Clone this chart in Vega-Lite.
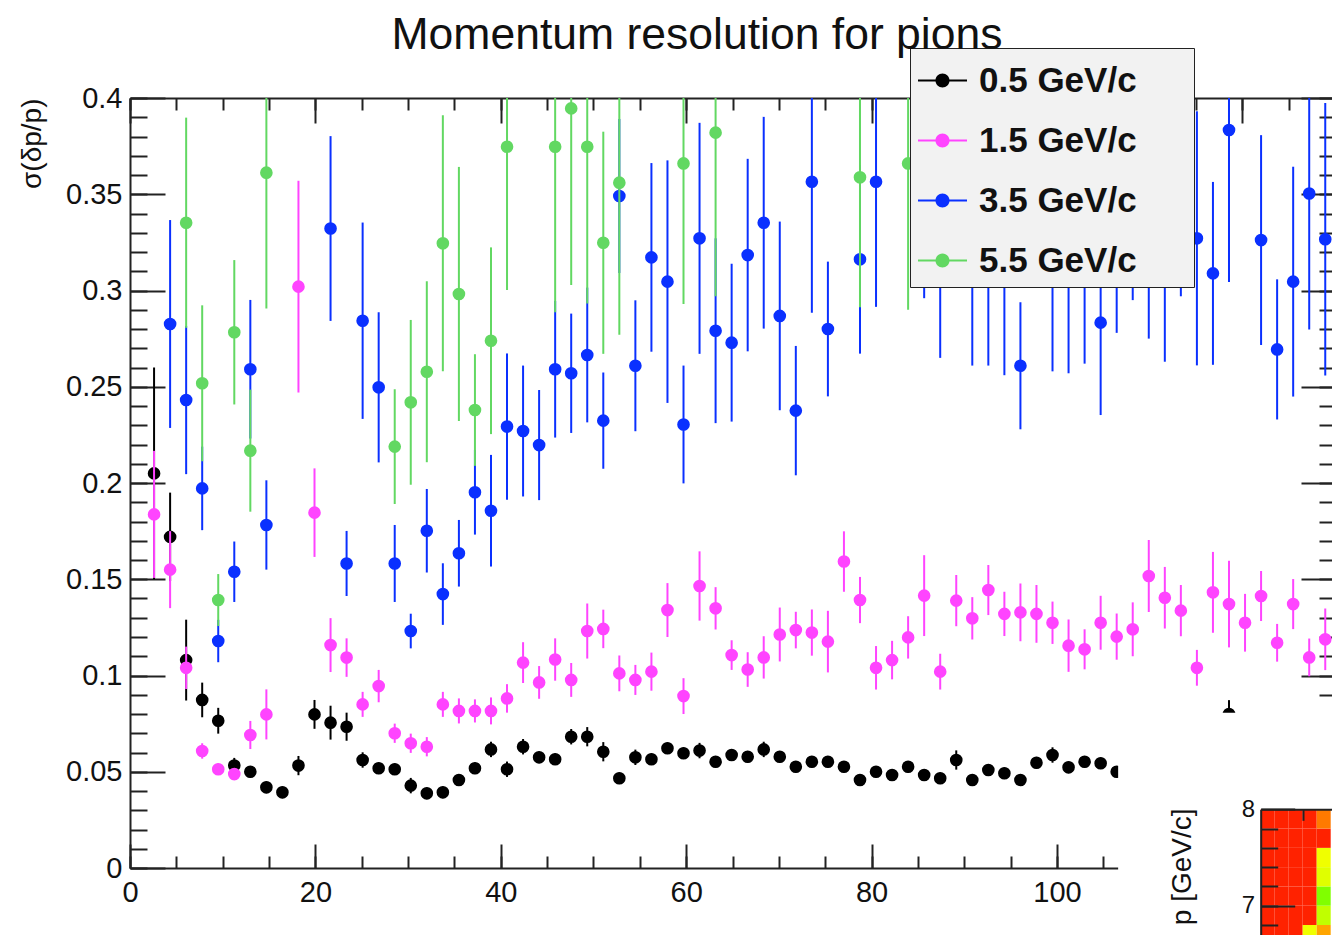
{
  "$schema": "https://vega.github.io/schema/vega-lite/v6.json",
  "width": 1202,
  "height": 770,
  "autosize": {"type": "none"},
  "padding": {"left": 130, "top": 98, "right": 0, "bottom": 67},
  "background": "white",
  "title": {"text": "Momentum resolution for pions", "font": "Liberation Sans", "fontSize": 44.5, "fontWeight": "normal", "color": "#111111", "anchor": "middle", "frame": "group", "dx": -34, "offset": -11},
  "config": {"view": {"stroke": null}, "axis": {"grid": false}, "point": {"size": 160}},
  "datasets": {
    "pts": [
      {"s":"0.5 GeV/c","x":2.596,"y":0.205,"e":0.055},
      {"s":"0.5 GeV/c","x":4.327,"y":0.172,"e":0.023},
      {"s":"0.5 GeV/c","x":6.058,"y":0.108,"e":0.021},
      {"s":"0.5 GeV/c","x":7.788,"y":0.0873,"e":0.009},
      {"s":"0.5 GeV/c","x":9.519,"y":0.0765,"e":0.0067},
      {"s":"0.5 GeV/c","x":11.25,"y":0.0532,"e":0.004},
      {"s":"0.5 GeV/c","x":12.981,"y":0.05,"e":0.003},
      {"s":"0.5 GeV/c","x":14.712,"y":0.0419,"e":0.003},
      {"s":"0.5 GeV/c","x":16.442,"y":0.0393,"e":0.003},
      {"s":"0.5 GeV/c","x":18.173,"y":0.0532,"e":0.005},
      {"s":"0.5 GeV/c","x":19.904,"y":0.0798,"e":0.0075},
      {"s":"0.5 GeV/c","x":21.635,"y":0.0755,"e":0.0088},
      {"s":"0.5 GeV/c","x":23.365,"y":0.0734,"e":0.0073},
      {"s":"0.5 GeV/c","x":25.096,"y":0.0561,"e":0.004},
      {"s":"0.5 GeV/c","x":26.827,"y":0.0518,"e":0.003},
      {"s":"0.5 GeV/c","x":28.558,"y":0.0513,"e":0.003},
      {"s":"0.5 GeV/c","x":30.288,"y":0.0428,"e":0.004},
      {"s":"0.5 GeV/c","x":32.019,"y":0.0388,"e":0.003},
      {"s":"0.5 GeV/c","x":33.75,"y":0.0393,"e":0.003},
      {"s":"0.5 GeV/c","x":35.481,"y":0.0457,"e":0.003},
      {"s":"0.5 GeV/c","x":37.212,"y":0.0518,"e":0.003},
      {"s":"0.5 GeV/c","x":38.942,"y":0.0616,"e":0.004},
      {"s":"0.5 GeV/c","x":40.673,"y":0.0513,"e":0.004},
      {"s":"0.5 GeV/c","x":42.404,"y":0.063,"e":0.004},
      {"s":"0.5 GeV/c","x":44.135,"y":0.0575,"e":0.003},
      {"s":"0.5 GeV/c","x":45.865,"y":0.0565,"e":0.003},
      {"s":"0.5 GeV/c","x":47.596,"y":0.0682,"e":0.004},
      {"s":"0.5 GeV/c","x":49.327,"y":0.0682,"e":0.005},
      {"s":"0.5 GeV/c","x":51.058,"y":0.0604,"e":0.005},
      {"s":"0.5 GeV/c","x":52.788,"y":0.0466,"e":0.003},
      {"s":"0.5 GeV/c","x":54.519,"y":0.0575,"e":0.004},
      {"s":"0.5 GeV/c","x":56.25,"y":0.0565,"e":0.003},
      {"s":"0.5 GeV/c","x":57.981,"y":0.0622,"e":0.003},
      {"s":"0.5 GeV/c","x":59.712,"y":0.0596,"e":0.003},
      {"s":"0.5 GeV/c","x":61.442,"y":0.061,"e":0.004},
      {"s":"0.5 GeV/c","x":63.173,"y":0.0552,"e":0.003},
      {"s":"0.5 GeV/c","x":64.904,"y":0.0587,"e":0.003},
      {"s":"0.5 GeV/c","x":66.635,"y":0.0578,"e":0.003},
      {"s":"0.5 GeV/c","x":68.365,"y":0.0616,"e":0.004},
      {"s":"0.5 GeV/c","x":70.096,"y":0.0578,"e":0.003},
      {"s":"0.5 GeV/c","x":71.827,"y":0.0526,"e":0.003},
      {"s":"0.5 GeV/c","x":73.558,"y":0.0552,"e":0.003},
      {"s":"0.5 GeV/c","x":75.288,"y":0.0552,"e":0.003},
      {"s":"0.5 GeV/c","x":77.019,"y":0.0526,"e":0.003},
      {"s":"0.5 GeV/c","x":78.75,"y":0.0457,"e":0.003},
      {"s":"0.5 GeV/c","x":80.481,"y":0.05,"e":0.003},
      {"s":"0.5 GeV/c","x":82.212,"y":0.0483,"e":0.003},
      {"s":"0.5 GeV/c","x":83.942,"y":0.0526,"e":0.003},
      {"s":"0.5 GeV/c","x":85.673,"y":0.0483,"e":0.003},
      {"s":"0.5 GeV/c","x":87.404,"y":0.0466,"e":0.003},
      {"s":"0.5 GeV/c","x":89.135,"y":0.0561,"e":0.005},
      {"s":"0.5 GeV/c","x":90.865,"y":0.0457,"e":0.003},
      {"s":"0.5 GeV/c","x":92.596,"y":0.0509,"e":0.003},
      {"s":"0.5 GeV/c","x":94.327,"y":0.0492,"e":0.003},
      {"s":"0.5 GeV/c","x":96.058,"y":0.0457,"e":0.003},
      {"s":"0.5 GeV/c","x":97.788,"y":0.0547,"e":0.003},
      {"s":"0.5 GeV/c","x":99.519,"y":0.0587,"e":0.004},
      {"s":"0.5 GeV/c","x":101.25,"y":0.0523,"e":0.003},
      {"s":"0.5 GeV/c","x":102.981,"y":0.0552,"e":0.003},
      {"s":"0.5 GeV/c","x":104.712,"y":0.0544,"e":0.003},
      {"s":"0.5 GeV/c","x":106.442,"y":0.05,"e":0.003},
      {"s":"0.5 GeV/c","x":118.558,"y":0.08,"e":0.0072},

      {"s":"1.5 GeV/c","x":2.596,"y":0.1837,"e":0.033},
      {"s":"1.5 GeV/c","x":4.327,"y":0.155,"e":0.02},
      {"s":"1.5 GeV/c","x":6.058,"y":0.104,"e":0.011},
      {"s":"1.5 GeV/c","x":7.788,"y":0.0608,"e":0.004},
      {"s":"1.5 GeV/c","x":9.519,"y":0.0513,"e":0.003},
      {"s":"1.5 GeV/c","x":11.25,"y":0.0488,"e":0.003},
      {"s":"1.5 GeV/c","x":12.981,"y":0.0691,"e":0.0073},
      {"s":"1.5 GeV/c","x":14.712,"y":0.0798,"e":0.013},
      {"s":"1.5 GeV/c","x":18.173,"y":0.302,"e":0.055},
      {"s":"1.5 GeV/c","x":19.904,"y":0.1846,"e":0.023},
      {"s":"1.5 GeV/c","x":21.635,"y":0.1158,"e":0.014},
      {"s":"1.5 GeV/c","x":23.365,"y":0.1093,"e":0.01},
      {"s":"1.5 GeV/c","x":25.096,"y":0.085,"e":0.0065},
      {"s":"1.5 GeV/c","x":26.827,"y":0.0945,"e":0.0084},
      {"s":"1.5 GeV/c","x":28.558,"y":0.07,"e":0.005},
      {"s":"1.5 GeV/c","x":30.288,"y":0.0648,"e":0.005},
      {"s":"1.5 GeV/c","x":32.019,"y":0.063,"e":0.005},
      {"s":"1.5 GeV/c","x":33.75,"y":0.085,"e":0.0065},
      {"s":"1.5 GeV/c","x":35.481,"y":0.0816,"e":0.0065},
      {"s":"1.5 GeV/c","x":37.212,"y":0.0816,"e":0.006},
      {"s":"1.5 GeV/c","x":38.942,"y":0.0816,"e":0.007},
      {"s":"1.5 GeV/c","x":40.673,"y":0.0881,"e":0.0074},
      {"s":"1.5 GeV/c","x":42.404,"y":0.1067,"e":0.0106},
      {"s":"1.5 GeV/c","x":44.135,"y":0.0964,"e":0.0085},
      {"s":"1.5 GeV/c","x":45.865,"y":0.1083,"e":0.011},
      {"s":"1.5 GeV/c","x":47.596,"y":0.0977,"e":0.0088},
      {"s":"1.5 GeV/c","x":49.327,"y":0.1231,"e":0.0143},
      {"s":"1.5 GeV/c","x":51.058,"y":0.1242,"e":0.01},
      {"s":"1.5 GeV/c","x":52.788,"y":0.1011,"e":0.0093},
      {"s":"1.5 GeV/c","x":54.519,"y":0.0977,"e":0.0078},
      {"s":"1.5 GeV/c","x":56.25,"y":0.102,"e":0.0099},
      {"s":"1.5 GeV/c","x":57.981,"y":0.134,"e":0.014},
      {"s":"1.5 GeV/c","x":59.712,"y":0.0893,"e":0.0093},
      {"s":"1.5 GeV/c","x":61.442,"y":0.1465,"e":0.018},
      {"s":"1.5 GeV/c","x":63.173,"y":0.1349,"e":0.011},
      {"s":"1.5 GeV/c","x":64.904,"y":0.1106,"e":0.0077},
      {"s":"1.5 GeV/c","x":66.635,"y":0.1031,"e":0.009},
      {"s":"1.5 GeV/c","x":68.365,"y":0.1094,"e":0.011},
      {"s":"1.5 GeV/c","x":70.096,"y":0.1213,"e":0.014},
      {"s":"1.5 GeV/c","x":71.827,"y":0.1236,"e":0.0095},
      {"s":"1.5 GeV/c","x":73.558,"y":0.1223,"e":0.012},
      {"s":"1.5 GeV/c","x":75.288,"y":0.1176,"e":0.016},
      {"s":"1.5 GeV/c","x":77.019,"y":0.1592,"e":0.0157},
      {"s":"1.5 GeV/c","x":78.75,"y":0.1392,"e":0.012},
      {"s":"1.5 GeV/c","x":80.481,"y":0.104,"e":0.0113},
      {"s":"1.5 GeV/c","x":82.212,"y":0.108,"e":0.01},
      {"s":"1.5 GeV/c","x":83.942,"y":0.1198,"e":0.011},
      {"s":"1.5 GeV/c","x":85.673,"y":0.1415,"e":0.021},
      {"s":"1.5 GeV/c","x":87.404,"y":0.102,"e":0.0093},
      {"s":"1.5 GeV/c","x":89.135,"y":0.1389,"e":0.0133},
      {"s":"1.5 GeV/c","x":90.865,"y":0.1297,"e":0.011},
      {"s":"1.5 GeV/c","x":92.596,"y":0.1444,"e":0.013},
      {"s":"1.5 GeV/c","x":94.327,"y":0.132,"e":0.0115},
      {"s":"1.5 GeV/c","x":96.058,"y":0.1328,"e":0.015},
      {"s":"1.5 GeV/c","x":97.788,"y":0.132,"e":0.015},
      {"s":"1.5 GeV/c","x":99.519,"y":0.1274,"e":0.011},
      {"s":"1.5 GeV/c","x":101.25,"y":0.1155,"e":0.0136},
      {"s":"1.5 GeV/c","x":102.981,"y":0.1136,"e":0.0104},
      {"s":"1.5 GeV/c","x":104.712,"y":0.1274,"e":0.014},
      {"s":"1.5 GeV/c","x":106.442,"y":0.1202,"e":0.012},
      {"s":"1.5 GeV/c","x":108.173,"y":0.124,"e":0.014},
      {"s":"1.5 GeV/c","x":109.904,"y":0.1517,"e":0.0187},
      {"s":"1.5 GeV/c","x":111.635,"y":0.1404,"e":0.016},
      {"s":"1.5 GeV/c","x":113.365,"y":0.1337,"e":0.0133},
      {"s":"1.5 GeV/c","x":115.096,"y":0.104,"e":0.0093},
      {"s":"1.5 GeV/c","x":116.827,"y":0.1432,"e":0.021},
      {"s":"1.5 GeV/c","x":118.558,"y":0.1371,"e":0.0225},
      {"s":"1.5 GeV/c","x":120.288,"y":0.1274,"e":0.015},
      {"s":"1.5 GeV/c","x":122.019,"y":0.1413,"e":0.013},
      {"s":"1.5 GeV/c","x":123.75,"y":0.117,"e":0.0098},
      {"s":"1.5 GeV/c","x":125.481,"y":0.1371,"e":0.013},
      {"s":"1.5 GeV/c","x":127.212,"y":0.1094,"e":0.0098},
      {"s":"1.5 GeV/c","x":128.942,"y":0.1188,"e":0.016},

      {"s":"3.5 GeV/c","x":4.327,"y":0.2826,"e":0.054},
      {"s":"3.5 GeV/c","x":6.058,"y":0.2431,"e":0.0385},
      {"s":"3.5 GeV/c","x":7.788,"y":0.1972,"e":0.0217},
      {"s":"3.5 GeV/c","x":9.519,"y":0.1179,"e":0.011},
      {"s":"3.5 GeV/c","x":11.25,"y":0.1539,"e":0.0157},
      {"s":"3.5 GeV/c","x":12.981,"y":0.2591,"e":0.036},
      {"s":"3.5 GeV/c","x":14.712,"y":0.1782,"e":0.0232},
      {"s":"3.5 GeV/c","x":21.635,"y":0.3322,"e":0.048},
      {"s":"3.5 GeV/c","x":23.365,"y":0.1582,"e":0.0169},
      {"s":"3.5 GeV/c","x":25.096,"y":0.2843,"e":0.051},
      {"s":"3.5 GeV/c","x":26.827,"y":0.2497,"e":0.039},
      {"s":"3.5 GeV/c","x":28.558,"y":0.1582,"e":0.02},
      {"s":"3.5 GeV/c","x":30.288,"y":0.1231,"e":0.009},
      {"s":"3.5 GeV/c","x":32.019,"y":0.1752,"e":0.0217},
      {"s":"3.5 GeV/c","x":33.75,"y":0.1423,"e":0.016},
      {"s":"3.5 GeV/c","x":35.481,"y":0.1635,"e":0.0173},
      {"s":"3.5 GeV/c","x":37.212,"y":0.1952,"e":0.022},
      {"s":"3.5 GeV/c","x":38.942,"y":0.1856,"e":0.029},
      {"s":"3.5 GeV/c","x":40.673,"y":0.2293,"e":0.038},
      {"s":"3.5 GeV/c","x":42.404,"y":0.227,"e":0.034},
      {"s":"3.5 GeV/c","x":44.135,"y":0.2197,"e":0.0286},
      {"s":"3.5 GeV/c","x":45.865,"y":0.2591,"e":0.0355},
      {"s":"3.5 GeV/c","x":47.596,"y":0.257,"e":0.031},
      {"s":"3.5 GeV/c","x":49.327,"y":0.2665,"e":0.035},
      {"s":"3.5 GeV/c","x":51.058,"y":0.2324,"e":0.025},
      {"s":"3.5 GeV/c","x":52.788,"y":0.3491,"e":0.04},
      {"s":"3.5 GeV/c","x":54.519,"y":0.2609,"e":0.034},
      {"s":"3.5 GeV/c","x":56.25,"y":0.3172,"e":0.049},
      {"s":"3.5 GeV/c","x":57.981,"y":0.3046,"e":0.063},
      {"s":"3.5 GeV/c","x":59.712,"y":0.2304,"e":0.0306},
      {"s":"3.5 GeV/c","x":61.442,"y":0.3271,"e":0.06},
      {"s":"3.5 GeV/c","x":63.173,"y":0.2791,"e":0.048},
      {"s":"3.5 GeV/c","x":64.904,"y":0.2729,"e":0.041},
      {"s":"3.5 GeV/c","x":66.635,"y":0.3184,"e":0.05},
      {"s":"3.5 GeV/c","x":68.365,"y":0.3352,"e":0.055},
      {"s":"3.5 GeV/c","x":70.096,"y":0.2868,"e":0.049},
      {"s":"3.5 GeV/c","x":71.827,"y":0.2376,"e":0.0336},
      {"s":"3.5 GeV/c","x":73.558,"y":0.3565,"e":0.068},
      {"s":"3.5 GeV/c","x":75.288,"y":0.28,"e":0.035},
      {"s":"3.5 GeV/c","x":78.75,"y":0.3162,"e":0.049},
      {"s":"3.5 GeV/c","x":80.481,"y":0.3565,"e":0.065},
      {"s":"3.5 GeV/c","x":85.673,"y":0.336,"e":0.04},
      {"s":"3.5 GeV/c","x":87.404,"y":0.315,"e":0.05},
      {"s":"3.5 GeV/c","x":90.865,"y":0.315,"e":0.054},
      {"s":"3.5 GeV/c","x":92.596,"y":0.32,"e":0.059},
      {"s":"3.5 GeV/c","x":94.327,"y":0.31,"e":0.054},
      {"s":"3.5 GeV/c","x":96.058,"y":0.2609,"e":0.033},
      {"s":"3.5 GeV/c","x":99.519,"y":0.31,"e":0.052},
      {"s":"3.5 GeV/c","x":101.25,"y":0.31,"e":0.053},
      {"s":"3.5 GeV/c","x":102.981,"y":0.315,"e":0.053},
      {"s":"3.5 GeV/c","x":104.712,"y":0.2833,"e":0.048},
      {"s":"3.5 GeV/c","x":106.442,"y":0.33,"e":0.052},
      {"s":"3.5 GeV/c","x":108.173,"y":0.345,"e":0.05},
      {"s":"3.5 GeV/c","x":109.904,"y":0.33,"e":0.055},
      {"s":"3.5 GeV/c","x":111.635,"y":0.32,"e":0.057},
      {"s":"3.5 GeV/c","x":113.365,"y":0.34,"e":0.043},
      {"s":"3.5 GeV/c","x":115.096,"y":0.3271,"e":0.066},
      {"s":"3.5 GeV/c","x":116.827,"y":0.3089,"e":0.0475},
      {"s":"3.5 GeV/c","x":118.558,"y":0.3834,"e":0.079},
      {"s":"3.5 GeV/c","x":122.019,"y":0.3262,"e":0.0545},
      {"s":"3.5 GeV/c","x":123.75,"y":0.2694,"e":0.0364},
      {"s":"3.5 GeV/c","x":125.481,"y":0.3046,"e":0.0597},
      {"s":"3.5 GeV/c","x":127.212,"y":0.3504,"e":0.0706},
      {"s":"3.5 GeV/c","x":128.942,"y":0.3266,"e":0.0708},

      {"s":"5.5 GeV/c","x":6.058,"y":0.3352,"e":0.0546},
      {"s":"5.5 GeV/c","x":7.788,"y":0.2518,"e":0.0405},
      {"s":"5.5 GeV/c","x":9.519,"y":0.1392,"e":0.0135},
      {"s":"5.5 GeV/c","x":11.25,"y":0.2783,"e":0.0375},
      {"s":"5.5 GeV/c","x":12.981,"y":0.2168,"e":0.0317},
      {"s":"5.5 GeV/c","x":14.712,"y":0.3612,"e":0.0705},
      {"s":"5.5 GeV/c","x":28.558,"y":0.2189,"e":0.0298},
      {"s":"5.5 GeV/c","x":30.288,"y":0.2419,"e":0.0428},
      {"s":"5.5 GeV/c","x":32.019,"y":0.2578,"e":0.047},
      {"s":"5.5 GeV/c","x":33.75,"y":0.3245,"e":0.0665},
      {"s":"5.5 GeV/c","x":35.481,"y":0.2982,"e":0.066},
      {"s":"5.5 GeV/c","x":37.212,"y":0.2379,"e":0.029},
      {"s":"5.5 GeV/c","x":38.942,"y":0.2739,"e":0.0485},
      {"s":"5.5 GeV/c","x":40.673,"y":0.3747,"e":0.0745},
      {"s":"5.5 GeV/c","x":45.865,"y":0.3747,"e":0.086},
      {"s":"5.5 GeV/c","x":47.596,"y":0.3946,"e":0.0917},
      {"s":"5.5 GeV/c","x":49.327,"y":0.3747,"e":0.0814},
      {"s":"5.5 GeV/c","x":51.058,"y":0.3248,"e":0.0577},
      {"s":"5.5 GeV/c","x":52.788,"y":0.356,"e":0.079},
      {"s":"5.5 GeV/c","x":59.712,"y":0.366,"e":0.073},
      {"s":"5.5 GeV/c","x":63.173,"y":0.382,"e":0.085},
      {"s":"5.5 GeV/c","x":78.75,"y":0.3588,"e":0.0675},
      {"s":"5.5 GeV/c","x":83.942,"y":0.366,"e":0.076}
    ],
    "cells": [
      {"b0":0,"b1":1,"p0":6.6,"p1":6.8,"z":100},{"b0":0,"b1":1,"p0":6.8,"p1":7.0,"z":100},{"b0":0,"b1":1,"p0":7.0,"p1":7.2,"z":100},{"b0":0,"b1":1,"p0":7.2,"p1":7.4,"z":100},{"b0":0,"b1":1,"p0":7.4,"p1":7.6,"z":100},{"b0":0,"b1":1,"p0":7.6,"p1":7.8,"z":100},{"b0":0,"b1":1,"p0":7.8,"p1":8.0,"z":100},
      {"b0":1,"b1":2,"p0":6.6,"p1":6.8,"z":100},{"b0":1,"b1":2,"p0":6.8,"p1":7.0,"z":100},{"b0":1,"b1":2,"p0":7.0,"p1":7.2,"z":100},{"b0":1,"b1":2,"p0":7.2,"p1":7.4,"z":100},{"b0":1,"b1":2,"p0":7.4,"p1":7.6,"z":100},{"b0":1,"b1":2,"p0":7.6,"p1":7.8,"z":100},{"b0":1,"b1":2,"p0":7.8,"p1":8.0,"z":100},
      {"b0":2,"b1":3,"p0":6.6,"p1":6.8,"z":100},{"b0":2,"b1":3,"p0":6.8,"p1":7.0,"z":100},{"b0":2,"b1":3,"p0":7.0,"p1":7.2,"z":100},{"b0":2,"b1":3,"p0":7.2,"p1":7.4,"z":100},{"b0":2,"b1":3,"p0":7.4,"p1":7.6,"z":100},{"b0":2,"b1":3,"p0":7.6,"p1":7.8,"z":100},{"b0":2,"b1":3,"p0":7.8,"p1":8.0,"z":100},
      {"b0":3,"b1":4,"p0":6.6,"p1":6.8,"z":70},{"b0":3,"b1":4,"p0":6.8,"p1":7.0,"z":100},{"b0":3,"b1":4,"p0":7.0,"p1":7.2,"z":100},{"b0":3,"b1":4,"p0":7.2,"p1":7.4,"z":100},{"b0":3,"b1":4,"p0":7.4,"p1":7.6,"z":100},{"b0":3,"b1":4,"p0":7.6,"p1":7.8,"z":100},{"b0":3,"b1":4,"p0":7.8,"p1":8.0,"z":100},
      {"b0":4,"b1":5,"p0":6.6,"p1":6.8,"z":80},{"b0":4,"b1":5,"p0":6.8,"p1":7.0,"z":62},{"b0":4,"b1":5,"p0":7.0,"p1":7.2,"z":55},{"b0":4,"b1":5,"p0":7.2,"p1":7.4,"z":66},{"b0":4,"b1":5,"p0":7.4,"p1":7.6,"z":70},{"b0":4,"b1":5,"p0":7.6,"p1":7.8,"z":100},{"b0":4,"b1":5,"p0":7.8,"p1":8.0,"z":85}
    ]
  },
  "layer": [
    {
      "data": {"name": "pts"},
      "transform": [{"filter": "datum.s === '0.5 GeV/c'"}],
      "mark": {"type": "errorbar", "color": "#000000", "thickness": 2, "clip": true},
      "encoding": {
        "x": {"field": "x", "type": "quantitative", "scale": {"domain": [0, 129.67], "nice": false, "zero": false}, "axis": null},
        "y": {"field": "y", "type": "quantitative", "scale": {"domain": [0, 0.4], "nice": false, "zero": false}, "axis": null},
        "yError": {"field": "e"}
      }
    },
    {
      "data": {"name": "pts"},
      "transform": [{"filter": "datum.s === '0.5 GeV/c'"}],
      "mark": {"type": "point", "filled": true, "opacity": 1},
      "encoding": {
        "x": {"field": "x", "type": "quantitative", "scale": {"domain": [0, 129.67], "nice": false, "zero": false},
          "axis": {"orient": "bottom", "values": [0,5,10,15,20,25,30,35,40,45,50,55,60,65,70,75,80,85,90,95,100,105,110,115,120,125], "tickSize": -12, "tickWidth": 2, "tickColor": "#222222", "labels": false, "domain": true, "domainWidth": 2, "domainColor": "#222222", "title": null}},
        "y": {"field": "y", "type": "quantitative", "scale": {"domain": [0, 0.4], "nice": false, "zero": false},
          "axis": {"orient": "left", "values": [0,0.01,0.02,0.03,0.04,0.05,0.06,0.07,0.08,0.09,0.1,0.11,0.12,0.13,0.14,0.15,0.16,0.17,0.18,0.19,0.2,0.21,0.22,0.23,0.24,0.25,0.26,0.27,0.28,0.29,0.3,0.31,0.32,0.33,0.34,0.35,0.36,0.37,0.38,0.39,0.4], "tickSize": -17, "tickWidth": 2, "tickColor": "#222222", "labels": false, "domain": true, "domainWidth": 2, "domainColor": "#222222", "title": null}},
        "color": {"field": "s", "type": "nominal", "scale": {"domain": ["0.5 GeV/c","1.5 GeV/c","3.5 GeV/c","5.5 GeV/c"], "range": ["#000000","#ff44ff","#0a30ff","#62d862"]},
          "legend": {"title": ".", "titleOrient": "right", "titlePadding": 48, "titleFontSize": 2, "titleColor": "#f2f2f2",
            "orient": "none", "legendX": 780, "legendY": -50,
            "symbolType": "M-1,-0.041L1,-0.041L1,0.041L-1,0.041Z M-0.286,0A0.286,0.286,0,1,1,0.286,0A0.286,0.286,0,1,1,-0.286,0Z",
            "symbolSize": 2401, "symbolOpacity": 1, "symbolStrokeWidth": 0,
            "labelFont": "Liberation Sans", "labelFontSize": 35, "labelFontWeight": "bold", "labelColor": "#111111", "labelOffset": 12, "labelLimit": 300,
            "padding": 8, "rowPadding": 17, "fillColor": "#f2f2f2", "strokeColor": "#222222"}}
      }
    },
    {
      "data": {"name": "pts"},
      "transform": [{"filter": "datum.s === '1.5 GeV/c'"}],
      "mark": {"type": "errorbar", "color": "#ff44ff", "thickness": 2, "clip": true},
      "encoding": {
        "x": {"field": "x", "type": "quantitative", "scale": {"domain": [0, 129.67], "nice": false, "zero": false}, "axis": null},
        "y": {"field": "y", "type": "quantitative", "scale": {"domain": [0, 0.4], "nice": false, "zero": false}, "axis": null},
        "yError": {"field": "e"}
      }
    },
    {
      "data": {"name": "pts"},
      "transform": [{"filter": "datum.s === '1.5 GeV/c'"}],
      "mark": {"type": "point", "filled": true, "opacity": 1, "color": "#ff44ff"},
      "encoding": {
        "x": {"field": "x", "type": "quantitative", "scale": {"domain": [0, 129.67], "nice": false, "zero": false},
          "axis": {"orient": "bottom", "values": [0,20,40,60,80,100,120], "tickSize": -24, "tickWidth": 2, "tickColor": "#222222", "labels": false, "domain": false, "title": null}},
        "y": {"field": "y", "type": "quantitative", "scale": {"domain": [0, 0.4], "nice": false, "zero": false},
          "axis": {"orient": "left", "values": [0,0.05,0.1,0.15,0.2,0.25,0.3,0.35,0.4], "tickSize": -35, "tickWidth": 2, "tickColor": "#222222", "labels": false, "domain": false, "title": null}}
      }
    },
    {
      "data": {"name": "pts"},
      "transform": [{"filter": "datum.s === '3.5 GeV/c'"}],
      "mark": {"type": "errorbar", "color": "#0a30ff", "thickness": 2, "clip": true},
      "encoding": {
        "x": {"field": "x", "type": "quantitative", "scale": {"domain": [0, 129.67], "nice": false, "zero": false}, "axis": null},
        "y": {"field": "y", "type": "quantitative", "scale": {"domain": [0, 0.4], "nice": false, "zero": false}, "axis": null},
        "yError": {"field": "e"}
      }
    },
    {
      "data": {"name": "pts"},
      "transform": [{"filter": "datum.s === '3.5 GeV/c'"}],
      "mark": {"type": "point", "filled": true, "opacity": 1, "color": "#0a30ff"},
      "encoding": {
        "x": {"field": "x", "type": "quantitative", "scale": {"domain": [0, 129.67], "nice": false, "zero": false},
          "axis": {"orient": "bottom", "values": [0,20,40,60,80,100], "ticks": false, "domain": false, "labels": true, "labelFont": "Liberation Sans", "labelFontSize": 29, "labelColor": "#111111", "labelPadding": 10, "labelFlush": false, "labelOverlap": false, "format": "d", "title": null}},
        "y": {"field": "y", "type": "quantitative", "scale": {"domain": [0, 0.4], "nice": false, "zero": false},
          "axis": {"orient": "left", "values": [0,0.05,0.1,0.15,0.2,0.25,0.3,0.35,0.4], "ticks": false, "domain": false, "labels": true, "labelFont": "Liberation Sans", "labelFontSize": 29, "labelColor": "#111111", "labelPadding": 8, "labelFlush": false, "labelOverlap": false, "format": "~g",
            "title": "σ(δp/p)", "titleFont": "Liberation Sans", "titleFontSize": 28, "titleFontWeight": "normal", "titleColor": "#111111", "titleAngle": -90, "titleAlign": "right", "titleBaseline": "middle", "titleX": -97.5, "titleY": 0}}
      }
    },
    {
      "data": {"name": "pts"},
      "transform": [{"filter": "datum.s === '5.5 GeV/c'"}],
      "mark": {"type": "errorbar", "color": "#62d862", "thickness": 2, "clip": true},
      "encoding": {
        "x": {"field": "x", "type": "quantitative", "scale": {"domain": [0, 129.67], "nice": false, "zero": false}, "axis": null},
        "y": {"field": "y", "type": "quantitative", "scale": {"domain": [0, 0.4], "nice": false, "zero": false}, "axis": null},
        "yError": {"field": "e"}
      }
    },
    {
      "data": {"name": "pts"},
      "transform": [{"filter": "datum.s === '5.5 GeV/c'"}],
      "mark": {"type": "point", "filled": true, "opacity": 1, "color": "#62d862"},
      "encoding": {
        "x": {"field": "x", "type": "quantitative", "scale": {"domain": [0, 129.67], "nice": false, "zero": false},
          "axis": {"orient": "top", "values": [0,5,10,15,20,25,30,35,40,45,50,55,60,65,70,75,80,85,90,95,100,105,110,115,120,125], "tickSize": -12, "tickWidth": 2, "tickColor": "#222222", "labels": false, "domain": true, "domainWidth": 2, "domainColor": "#222222", "title": null}},
        "y": {"field": "y", "type": "quantitative", "scale": {"domain": [0, 0.4], "nice": false, "zero": false},
          "axis": {"orient": "right", "offset": 4, "values": [0,0.01,0.02,0.03,0.04,0.05,0.06,0.07,0.08,0.09,0.1,0.11,0.12,0.13,0.14,0.15,0.16,0.17,0.18,0.19,0.2,0.21,0.22,0.23,0.24,0.25,0.26,0.27,0.28,0.29,0.3,0.31,0.32,0.33,0.34,0.35,0.36,0.37,0.38,0.39,0.4], "tickSize": -17, "tickWidth": 2, "tickColor": "#222222", "labels": false, "domain": false, "title": null}}
      }
    },
    {
      "data": {"values": [{}]},
      "mark": {"type": "rect", "color": "#ffffff", "strokeWidth": 0},
      "encoding": {
        "x": {"datum": 106.6, "type": "quantitative", "scale": {"domain": [0, 129.67], "nice": false, "zero": false},
          "axis": {"orient": "top", "values": [0,20,40,60,80,100,120], "tickSize": -25, "tickWidth": 2, "tickColor": "#222222", "labels": false, "domain": false, "title": null}},
        "x2": {"datum": 145},
        "y": {"datum": 0.0807, "type": "quantitative", "scale": {"domain": [0, 0.4], "nice": false, "zero": false},
          "axis": {"orient": "right", "offset": 4, "values": [0,0.05,0.1,0.15,0.2,0.25,0.3,0.35,0.4], "tickSize": -35, "tickWidth": 2, "tickColor": "#222222", "labels": false, "domain": false, "title": null}},
        "y2": {"datum": -0.06}
      }
    },
    {
      "data": {"name": "cells"},
      "mark": {"type": "rect", "strokeWidth": 0},
      "encoding": {
        "x": {"field": "b0", "type": "quantitative", "scale": {"domain": [0, 10], "range": [1130.7, 1270.7], "nice": false, "zero": false},
          "axis": {"orient": "top", "offset": -711.3, "values": [3], "tickSize": -11, "tickWidth": 2, "tickColor": "#222222", "labels": false, "domain": true, "domainWidth": 2, "domainColor": "#222222", "title": null, "zindex": 1}},
        "x2": {"field": "b1"},
        "y": {"field": "p0", "type": "quantitative", "scale": {"domain": [6, 8], "range": [904.1, 711.3], "nice": false, "zero": false},
          "axis": {"orient": "left", "offset": -1130.7, "values": [6.6,6.8,7.0,7.2,7.4,7.6,7.8], "tickSize": -17, "tickWidth": 2, "tickColor": "#222222", "labels": false, "domain": true, "domainWidth": 2, "domainColor": "#222222", "title": null, "zindex": 1}},
        "y2": {"field": "p1"},
        "fill": {"field": "z", "type": "quantitative", "scale": {"domain": [55, 62, 66, 70, 80, 85, 100], "range": ["#80ff00", "#c0ff00", "#e0ff00", "#f0ff00", "#ffa500", "#ff7a00", "#ff2200"]}, "legend": null}
      }
    },
    {
      "data": {"name": "cells"},
      "mark": {"type": "rect", "opacity": 0},
      "encoding": {
        "x": {"field": "b0", "type": "quantitative", "scale": {"domain": [0, 10], "range": [1130.7, 1270.7], "nice": false, "zero": false}, "axis": null},
        "x2": {"field": "b1"},
        "y": {"field": "p0", "type": "quantitative", "scale": {"domain": [6, 8], "range": [904.1, 711.3], "nice": false, "zero": false},
          "axis": {"orient": "left", "offset": -1130.7, "values": [7, 8], "tickSize": -34, "tickWidth": 2, "tickColor": "#222222", "labels": false, "domain": false, "title": null, "zindex": 1}},
        "y2": {"field": "p1"}
      }
    },
    {
      "data": {"name": "cells"},
      "mark": {"type": "rect", "opacity": 0},
      "encoding": {
        "x": {"field": "b0", "type": "quantitative", "scale": {"domain": [0, 10], "range": [1130.7, 1270.7], "nice": false, "zero": false}, "axis": null},
        "x2": {"field": "b1"},
        "y": {"field": "p0", "type": "quantitative", "scale": {"domain": [6, 8], "range": [904.1, 711.3], "nice": false, "zero": false},
          "axis": {"orient": "left", "offset": -1130.7, "values": [7, 8], "ticks": false, "domain": false, "labels": true, "labelFont": "Liberation Sans", "labelFontSize": 24, "labelColor": "#111111", "labelPadding": 6, "labelFlush": false, "labelOverlap": false, "format": "d",
            "title": "p [GeV/c]", "titleFont": "Liberation Sans", "titleFontSize": 28, "titleFontWeight": "normal", "titleColor": "#111111", "titleAngle": -90, "titleAlign": "right", "titleBaseline": "middle", "titleX": -78.7, "titleY": 710, "zindex": 1}},
        "y2": {"field": "p1"}
      }
    }
  ],
  "resolve": {"scale": {"x": "independent", "y": "independent"}, "axis": {"x": "independent", "y": "independent"}}
}
